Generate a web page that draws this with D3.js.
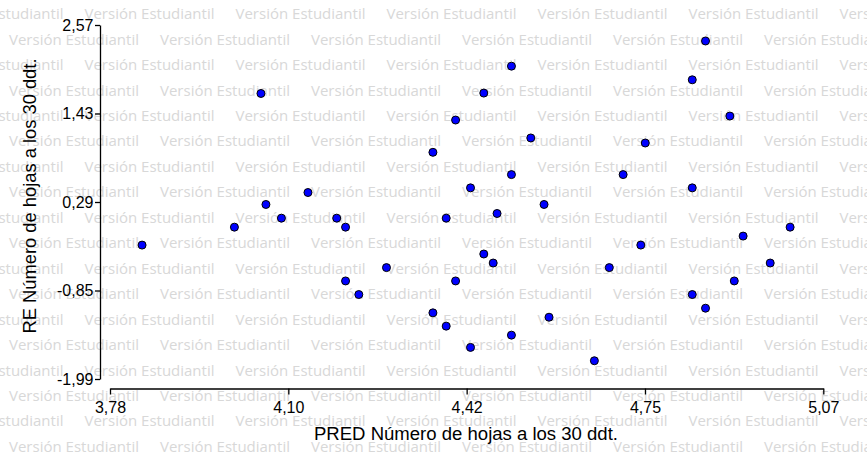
<!DOCTYPE html>
<html>
<head>
<meta charset="utf-8">
<script src="https://cdn.jsdelivr.net/npm/d3@7"></script>
<style>
  html, body { margin: 0; padding: 0; background: #fff; }
  svg { display: block; }
</style>
</head>
<body>
<svg id="chart" width="867" height="460"></svg>
<script>
// ---- data ----
const predValues = [3.838, 4.005, 4.053, 4.062, 4.090, 4.138, 4.190, 4.206, 4.206, 4.230,
  4.280, 4.364, 4.364, 4.388, 4.388, 4.405, 4.405, 4.432, 4.432, 4.456,
  4.456, 4.473, 4.480, 4.506, 4.506, 4.506, 4.541, 4.565, 4.574, 4.656,
  4.683, 4.708, 4.740, 4.748, 4.833, 4.833, 4.833, 4.857, 4.857, 4.901,
  4.909, 4.925, 4.974, 5.010];
const residValues = [-0.265, -0.034, 1.688, 0.258, 0.082, 0.412, 0.082, -0.034, -0.727, -0.902,
  -0.555, -1.138, 0.930, -1.309, 0.082, 1.346, -0.727, 0.472, -1.583, 1.693,
  -0.380, -0.496, 0.142, 2.040, 0.643, -1.425, 1.115, 0.258, -1.194, -1.755,
  -0.555, 0.643, -0.265, 1.050, 1.864, 0.472, -0.902, 2.364, -1.078, 1.397,
  -0.727, -0.149, -0.496, -0.034];
const xTickValues = [3.78, 4.1025, 4.425, 4.7475, 5.07];
const xTickLabels = ["3,78", "4,10", "4,42", "4,75", "5,07"];
const yTickValues = [-1.99, -0.85, 0.29, 1.43, 2.57];
const yTickLabels = ["-1,99", "-0,85", "0,29", "1,43", "2,57"];
const xTitle = "PRED Número de hojas a los 30 ddt.";
const yTitle = "RE Número de hojas a los 30 ddt.";
const watermarkText = "Versión Estudiantil";

const svg = d3.select("#chart");
const W = 867, H = 460;

// ---- watermark ----
const wm = svg.append("g").attr("class", "watermark");
const rowStep = 25.45, colStep = 151;
for (let r = 0; r < 19; r++) {
  const cy = 14 + r * rowStep;
  const offset = (r % 2 === 0) ? 84.5 - colStep : 9;
  for (let x0 = offset; x0 < W; x0 += colStep) {
    wm.append("text")
      .attr("x", x0)
      .attr("y", cy)
      .attr("dy", "0.36em")
      .attr("textLength", 130)
      .attr("lengthAdjust", "spacingAndGlyphs")
      .style("font-family", "'Open Sans', 'Noto Sans', sans-serif")
      .style("font-size", "14.5px")
      .style("fill", "#d8d8d8")
      .text(watermarkText);
  }
}

// ---- scales ----
const x = d3.scaleLinear().domain([3.78, 5.07]).range([110, 823.3]);
const y = d3.scaleLinear().domain([-1.99, 2.57]).range([379, 25]);

const fontFam = "Arial, 'Liberation Sans', sans-serif";

// x axis
const xAxis = d3.axisBottom(x)
  .tickValues(xTickValues)
  .tickFormat((d, i) => xTickLabels[i])
  .tickSizeInner(6).tickSizeOuter(0).tickPadding(7);
const gx = svg.append("g").attr("transform", "translate(0,388.5)").call(xAxis);
gx.selectAll("text").style("font-family", fontFam).style("font-size", "16px").style("fill", "#000");
gx.selectAll("path,line").attr("stroke", "#000").attr("stroke-width", 1.3);

// y axis
const yAxis = d3.axisLeft(y)
  .tickValues(yTickValues)
  .tickFormat((d, i) => yTickLabels[i])
  .tickSizeInner(5).tickSizeOuter(0).tickPadding(1.5);
const gy = svg.append("g").attr("transform", "translate(100,0)").call(yAxis);
gy.selectAll("text").style("font-family", fontFam).style("font-size", "16px").style("fill", "#000");
gy.selectAll("path,line").attr("stroke", "#000").attr("stroke-width", 1.3);

// titles
svg.append("text")
  .attr("x", 466).attr("y", 440)
  .attr("text-anchor", "middle")
  .attr("textLength", 304)
  .attr("lengthAdjust", "spacingAndGlyphs")
  .style("font-family", fontFam).style("font-size", "17.5px").style("fill", "#000")
  .text(xTitle);
svg.append("text")
  .attr("transform", "translate(35.5,196) rotate(-90)")
  .attr("text-anchor", "middle")
  .attr("textLength", 275)
  .attr("lengthAdjust", "spacingAndGlyphs")
  .style("font-family", fontFam).style("font-size", "17.5px").style("fill", "#000")
  .text(yTitle);

// points
svg.append("g").selectAll("circle")
  .data(predValues.map((p, i) => ({ p, r: residValues[i] })))
  .join("circle")
  .attr("cx", d => x(d.p))
  .attr("cy", d => y(d.r))
  .attr("r", 4)
  .attr("fill", "#0000ff")
  .attr("stroke", "#000")
  .attr("stroke-width", 1);
</script>
</body>
</html>
